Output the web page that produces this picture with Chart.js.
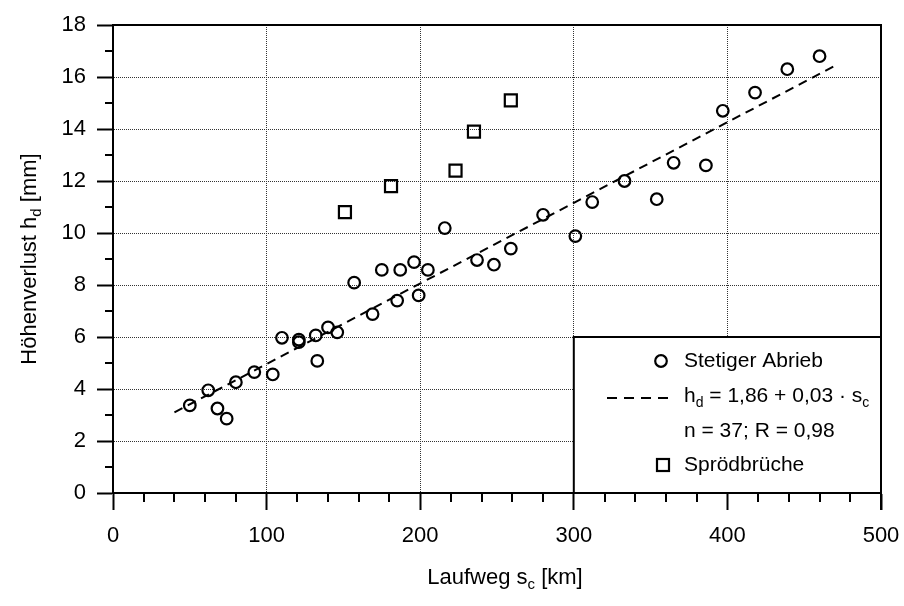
<!DOCTYPE html>
<html>
<head>
<meta charset="utf-8">
<script src="https://cdn.jsdelivr.net/npm/chart.js@4.4.1/dist/chart.umd.min.js"></script>
<style>
  html, body { margin: 0; padding: 0; background: #fff; }
  #wrap { width: 904px; height: 606px; }
</style>
</head>
<body>
<div id="wrap"><canvas id="c" width="904" height="606"></canvas></div>
<script>
// Laufweg s_c [km] and Höhenverlust h_d [mm] – steady wear
const abriebS = [50, 62, 68, 74, 80, 92, 104, 110, 121, 121, 132, 133, 140, 146, 157, 169, 175, 185, 187, 196, 199, 205, 216, 237, 248, 259, 280, 301, 312, 333, 354, 365, 386, 397, 418, 439, 460];
const abriebH = [3.37, 3.95, 3.25, 2.86, 4.26, 4.65, 4.56, 5.97, 5.9, 5.8, 6.06, 5.08, 6.37, 6.18, 8.09, 6.88, 8.58, 7.4, 8.58, 8.88, 7.6, 8.58, 10.19, 8.96, 8.78, 9.4, 10.7, 9.88, 11.19, 12.0, 11.3, 12.7, 12.6, 14.7, 15.4, 16.3, 16.8];

// brittle fractures
const bruchS = [151, 181, 223, 235, 259];
const bruchH = [10.8, 11.8, 12.4, 13.9, 15.1];

// regression h_d = a + b * s_c, drawn over this range of s_c
const fitA = 1.86;
const fitB = 0.031;
const fitR = 0.98;
const fitRange = [40, 470];

// axis ticks
const xTicks = [0, 100, 200, 300, 400, 500];
const yTicks = [0, 2, 4, 6, 8, 10, 12, 14, 16, 18];

const FONT = "'Liberation Sans', Arial, sans-serif";
const de = v => String(v).replace('.', ',');

const toPts = (xs, ys) => xs.map((x, i) => ({ x: x, y: ys[i] }));
const fitPts = fitRange.map(s => ({ x: s, y: fitA + fitB * s }));

// text with optional subscripts: parts = [[text, isSub], ...]
function richWidth(ctx, parts, size) {
  let w = 0;
  for (const [t, sub] of parts) {
    ctx.font = (sub ? Math.round(size * 0.66) : size) + 'px ' + FONT;
    w += ctx.measureText(t).width;
  }
  return w;
}
function drawRich(ctx, parts, x, y, size, align) {
  ctx.save();
  ctx.textBaseline = 'middle';
  ctx.textAlign = 'left';
  ctx.fillStyle = '#000';
  let cx = align === 'center' ? x - richWidth(ctx, parts, size) / 2 : x;
  for (const [t, sub] of parts) {
    ctx.font = (sub ? Math.round(size * 0.66) : size) + 'px ' + FONT;
    ctx.fillText(t, cx, sub ? y + size * 0.32 : y);
    cx += ctx.measureText(t).width;
  }
  ctx.restore();
}

const framePlugin = {
  id: 'frame',
  beforeDatasetsDraw(chart) {
    // legend panel over the lower-right corner of the plot
    const { ctx, scales: { x, y } } = chart;
    const l = x.getPixelForValue(300), t = y.getPixelForValue(6);
    const r = x.getPixelForValue(500), b = y.getPixelForValue(0);
    ctx.save();
    ctx.fillStyle = '#fff';
    ctx.fillRect(l, t, r - l - 1, b - t - 1);
    ctx.strokeStyle = '#000';
    ctx.lineWidth = 2;
    ctx.beginPath();
    ctx.moveTo(l, b);
    ctx.lineTo(l, t);
    ctx.lineTo(r, t);
    ctx.stroke();
    ctx.restore();
  },
  afterDraw(chart) {
    const { ctx, chartArea: a, scales: { x, y } } = chart;
    ctx.save();
    ctx.strokeStyle = '#000';
    ctx.lineWidth = 2;
    // top and right frame
    ctx.beginPath();
    ctx.moveTo(a.left, a.top);
    ctx.lineTo(a.right, a.top);
    ctx.lineTo(a.right, a.bottom + 17);
    ctx.stroke();
    // minor ticks
    ctx.beginPath();
    for (let v = 20; v < 500; v += 20) {
      if (v % 100 === 0) continue;
      const px = Math.round(x.getPixelForValue(v));
      ctx.moveTo(px, a.bottom);
      ctx.lineTo(px, a.bottom + 9);
    }
    for (let v = 1; v < 18; v += 2) {
      const py = Math.round(y.getPixelForValue(v));
      ctx.moveTo(a.left - 8, py);
      ctx.lineTo(a.left, py);
    }
    ctx.stroke();
    ctx.restore();

    // axis titles
    drawRich(ctx, [['Laufweg s', false], ['c', true], [' [km]', false]],
      (a.left + a.right) / 2 + 8, 578, 22, 'center');
    ctx.save();
    ctx.translate(30, (a.top + a.bottom) / 2);
    ctx.rotate(-Math.PI / 2);
    drawRich(ctx, [['Höhenverlust h', false], ['d', true], [' [mm]', false]], 0, 0, 22, 'center');
    ctx.restore();

    // legend entries
    const tx = 684;
    ctx.save();
    ctx.strokeStyle = '#000';
    ctx.lineWidth = 2.2;
    ctx.beginPath();
    ctx.arc(661, 361, 5.8, 0, Math.PI * 2);
    ctx.stroke();
    ctx.lineWidth = 2;
    ctx.setLineDash([10, 7]);
    ctx.beginPath();
    ctx.moveTo(607, 398);
    ctx.lineTo(670, 398);
    ctx.stroke();
    ctx.setLineDash([]);
    ctx.lineWidth = 2.2;
    ctx.strokeRect(657, 459, 12, 12);
    ctx.restore();
    drawRich(ctx, [['Stetiger Abrieb', false]], tx, 361, 21, 'left');
    drawRich(ctx, [['h', false], ['d', true], [' = ' + de(fitA) + ' + ' + de(fitB.toFixed(2)) + ' · s', false], ['c', true]], tx, 396, 21, 'left');
    drawRich(ctx, [['n = ' + abriebS.length + '; R = ' + de(fitR.toFixed(2)), false]], tx, 431, 21, 'left');
    drawRich(ctx, [['Sprödbrüche', false]], tx, 465, 21, 'left');
  }
};

new Chart(document.getElementById('c'), {
  type: 'scatter',
  data: {
    datasets: [
      {
        label: 'Stetiger Abrieb',
        data: toPts(abriebS, abriebH),
        pointStyle: 'circle',
        pointRadius: 5.8,
        pointHoverRadius: 5.8,
        borderWidth: 2.2,
        borderColor: '#000',
        backgroundColor: 'rgba(0,0,0,0)'
      },
      {
        label: 'Regression',
        type: 'line',
        data: fitPts,
        borderColor: '#000',
        borderWidth: 2,
        borderDash: [9, 6],
        pointRadius: 0,
        fill: false
      },
      {
        label: 'Sprödbrüche',
        data: toPts(bruchS, bruchH),
        pointStyle: 'rect',
        pointRadius: 8.5,
        pointHoverRadius: 8.5,
        borderWidth: 2.2,
        borderColor: '#000',
        backgroundColor: 'rgba(0,0,0,0)'
      }
    ]
  },
  options: {
    responsive: false,
    devicePixelRatio: 1,
    animation: false,
    events: [],
    layout: { padding: { top: 25, right: 23, left: 0, bottom: 0 } },
    plugins: { legend: { display: false }, tooltip: { enabled: false } },
    scales: {
      x: {
        type: 'linear',
        min: 0, max: 500,
        afterBuildTicks: s => { s.ticks = xTicks.map(v => ({ value: v })); },
        afterFit: s => { s.height = 113; s.paddingLeft = 0; s.paddingRight = 0; },
        ticks: { color: '#000', font: { family: FONT, size: 22 }, padding: 13 },
        grid: { color: '#333', lineWidth: 1, tickLength: 17, tickWidth: 2, tickColor: '#000' },
        border: { display: true, color: '#000', width: 2, dash: [1, 1] }
      },
      y: {
        min: 0, max: 18,
        afterBuildTicks: s => { s.ticks = yTicks.map(v => ({ value: v })); },
        afterFit: s => { s.width = 113; },
        ticks: { color: '#000', font: { family: FONT, size: 22 }, padding: 11 },
        grid: { color: '#333', lineWidth: 1, tickLength: 16, tickWidth: 2, tickColor: '#000' },
        border: { display: true, color: '#000', width: 2, dash: [1, 1] }
      }
    }
  },
  plugins: [framePlugin]
});
</script>
</body>
</html>
